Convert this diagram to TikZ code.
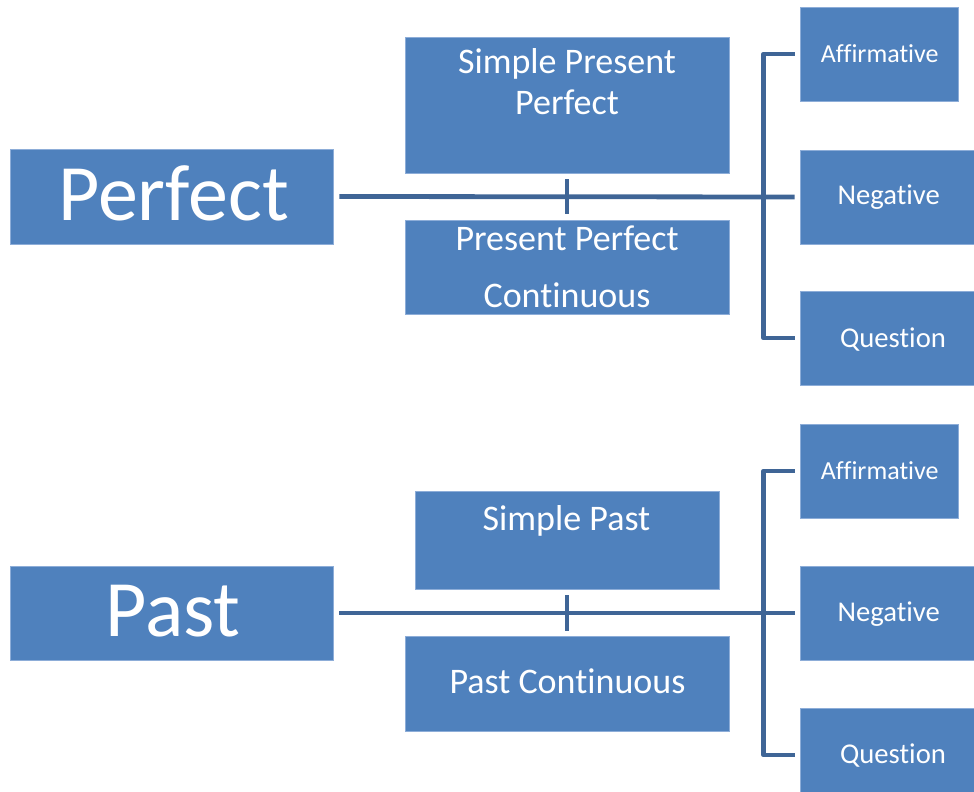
\documentclass[tikz,border=0pt]{standalone}
\usepackage{fontspec}
\setmainfont{Carlito}[RawFeature={-liga;-clig;-dlig}]
\usetikzlibrary{fit}
\definecolor{boxblue}{HTML}{4F81BD}
\definecolor{boxedge}{HTML}{8DADD8}
\definecolor{connblue}{HTML}{3F6596}
\tikzset{
  box/.style={fill=boxblue, draw=boxedge, line width=0.6pt, inner sep=0pt, fit={#1}},
  conn/.style={draw=connblue, line width=3.6pt, line join=round},
  txt/.style={anchor=base, text=white, inner sep=0pt},
  big/.style={font=\fontsize{60}{72}\selectfont},
  mid/.style={font=\fontsize{27}{32}\selectfont},
  small/.style={font=\fontsize{21.5}{26}\selectfont},
  smaller/.style={font=\fontsize{19.5}{24}\selectfont},
}
\begin{document}
\begin{tikzpicture}[x=0.75pt, y=-0.75pt]
\useasboundingbox (0,0) rectangle (974,792);
% ---------- top: Perfect ----------
\node[box={(10,149) (333,244)}] (perf) {};
\node[box={(405,37) (729,173)}] (spp) {};
\node[box={(405,220) (729,314)}] (ppc) {};
\node[box={(800,7) (958,101)}] (aff1) {};
\node[box={(800,150) (977,244)}] (neg1) {};
\node[box={(800,291) (977,385)}] (que1) {};

\draw[conn] ([xshift=4.5pt]perf.east) -- ([xshift=-3.75pt]neg1.west);
\draw[conn] ([yshift=-4.5pt]spp.south) -- ([yshift=4.5pt]ppc.north);
\draw[conn] ([xshift=-3.75pt]aff1.west) -- ++(-31,0) |- ([xshift=-3.75pt]que1.west);

\node[txt, big] (perf-t) at (173.5,220) {Perfect};
\node[txt, mid] (spp-t1) at (567,74) {Simple Present};
\node[txt, mid] (spp-t2) at (567,114) {Perfect};
\node[txt, mid] (ppc-t1) at (567,250) {Present Perfect};
\node[txt, mid] (ppc-t2) at (567,307) {Continuous};
\node[txt, smaller] (aff1-t) at (879.7,63) {Affirmative};
\node[txt, small] (neg1-t) at (888.7,204) {Negative};
\node[txt, small] (que1-t) at (893,347) {Question};

% ---------- bottom: Past ----------
\node[box={(10,566) (333,660)}] (past) {};
\node[box={(415,491) (719,589)}] (sp) {};
\node[box={(405,636) (729,731)}] (pc) {};
\node[box={(800,424) (958,518)}] (aff2) {};
\node[box={(800,566) (977,660)}] (neg2) {};
\node[box={(800,708) (977,802)}] (que2) {};

\draw[conn] ([xshift=4.5pt]past.east) -- ([xshift=-3.75pt]neg2.west);
\draw[conn] ([yshift=-4.5pt]sp.south) -- ([yshift=3.75pt]pc.north);
\draw[conn] ([xshift=-3.75pt]aff2.west) -- ++(-31,0) |- ([xshift=-3.75pt]que2.west);

\node[txt, big] (past-t) at (173,636) {Past};
\node[txt, mid] (sp-t) at (566.5,530) {Simple Past};
\node[txt, mid] (pc-t) at (567.5,693) {Past Continuous};
\node[txt, smaller] (aff2-t) at (879.7,479) {Affirmative};
\node[txt, small] (neg2-t) at (888.7,621) {Negative};
\node[txt, small] (que2-t) at (893,763) {Question};
\end{tikzpicture}
\end{document}
